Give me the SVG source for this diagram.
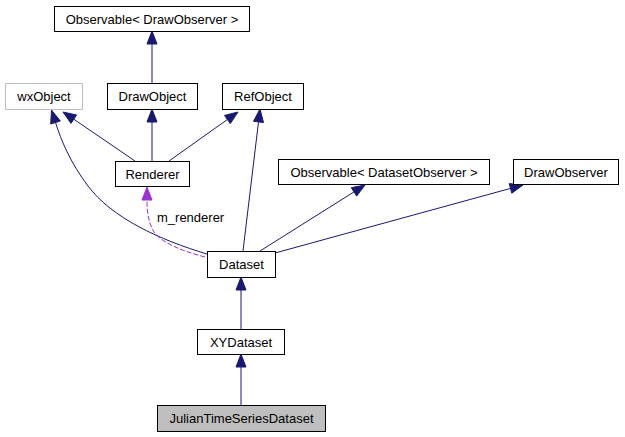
<svg xmlns="http://www.w3.org/2000/svg" width="625" height="437" viewBox="0 0 625 437">
<style>
.box{fill:#ffffff;stroke:#000000;stroke-width:1}
.gray{fill:#ffffff;stroke:#bfbfbf;stroke-width:1}
.sel{fill:#bfbfbf;stroke:#000000;stroke-width:1}
text{font-family:"Liberation Sans",Arial,Helvetica,sans-serif;font-size:13px;fill:#000000}
.c{text-anchor:middle}
.e{fill:none;stroke:#191970;stroke-width:1}
.ah{fill:#191970;stroke:#191970;stroke-width:1}
.d{fill:none;stroke:#9a32cd;stroke-width:1;stroke-dasharray:5,2}
.ap{fill:#9a32cd;stroke:#9a32cd;stroke-width:1}
</style>
<rect width="625" height="437" fill="#ffffff"/>
<g id="edges">
<path class="e" d="M152,83 L152,44"/>
<polygon class="ah" points="152,31 157,44 147,44"/>
<path class="e" d="M135,161 L73.8,119.2"/>
<polygon class="ah" points="63,112 76.6,115 71,123.4"/>
<path class="e" d="M152,161 L152,122"/>
<polygon class="ah" points="152,109 157,122 147,122"/>
<path class="e" d="M169,161 L227.4,119.5"/>
<polygon class="ah" points="238,112 230.3,123.6 224.5,115.4"/>
<path class="e" d="M207,254 C160,240 112,218 88,186 C70,162 61,140 55.5,122.5"/>
<polygon class="ah" points="51.5,110 60.3,121 50.7,124"/>
<path class="e" d="M243,251 L258.5,121.9"/>
<polygon class="ah" points="260,109 263.5,122.5 253.5,121.3"/>
<path class="e" d="M260,251 L354,191.9"/>
<polygon class="ah" points="365,185 356.7,196.1 351.3,187.7"/>
<path class="e" d="M275,253 L510.5,188.4"/>
<polygon class="ah" points="523,185 511.8,193.2 509.2,183.6"/>
<path class="d" d="M205,257 C182,251 162,243 154,232 C148,222 147,211 147,200"/>
<polygon class="ap" points="147,187 152,200 142,200"/>
<text x="157" y="222">m_renderer</text>
<path class="e" d="M241,329 L241,290"/>
<polygon class="ah" points="241,277 246,290 236,290"/>
<path class="e" d="M241,405 L241,367"/>
<polygon class="ah" points="241,354 246,367 236,367"/>
</g>
<g id="node-observable-drawobserver">
<rect class="box" x="54.5" y="6.5" width="195" height="25"/>
<text class="c" x="152" y="23.5">Observable&lt; DrawObserver &gt;</text>
</g>
<g id="node-wxobject">
<rect class="gray" x="5.5" y="83.5" width="77" height="26"/>
<text class="c" x="44" y="101">wxObject</text>
</g>
<g id="node-drawobject">
<rect class="box" x="107.5" y="83.5" width="90" height="26"/>
<text class="c" x="152.5" y="101">DrawObject</text>
</g>
<g id="node-refobject">
<rect class="box" x="222.5" y="83.5" width="81" height="26"/>
<text class="c" x="263" y="101">RefObject</text>
</g>
<g id="node-renderer">
<rect class="box" x="115.5" y="161.5" width="74" height="25"/>
<text class="c" x="152.5" y="178.5">Renderer</text>
</g>
<g id="node-observable-datasetobserver">
<rect class="box" x="278.5" y="159.5" width="211" height="25"/>
<text class="c" x="384" y="176.5">Observable&lt; DatasetObserver &gt;</text>
</g>
<g id="node-drawobserver">
<rect class="box" x="513.5" y="159.5" width="105" height="25"/>
<text class="c" x="566" y="176.5">DrawObserver</text>
</g>
<g id="node-dataset">
<rect class="box" x="207.5" y="251.5" width="68" height="26"/>
<text class="c" x="241.5" y="269">Dataset</text>
</g>
<g id="node-xydataset">
<rect class="box" x="197.5" y="329.5" width="87" height="25"/>
<text class="c" x="241" y="346.5">XYDataset</text>
</g>
<g id="node-juliantimeseriesdataset">
<rect class="sel" x="157.5" y="405.5" width="168" height="26"/>
<text class="c" x="241.5" y="423">JulianTimeSeriesDataset</text>
</g>
</svg>
